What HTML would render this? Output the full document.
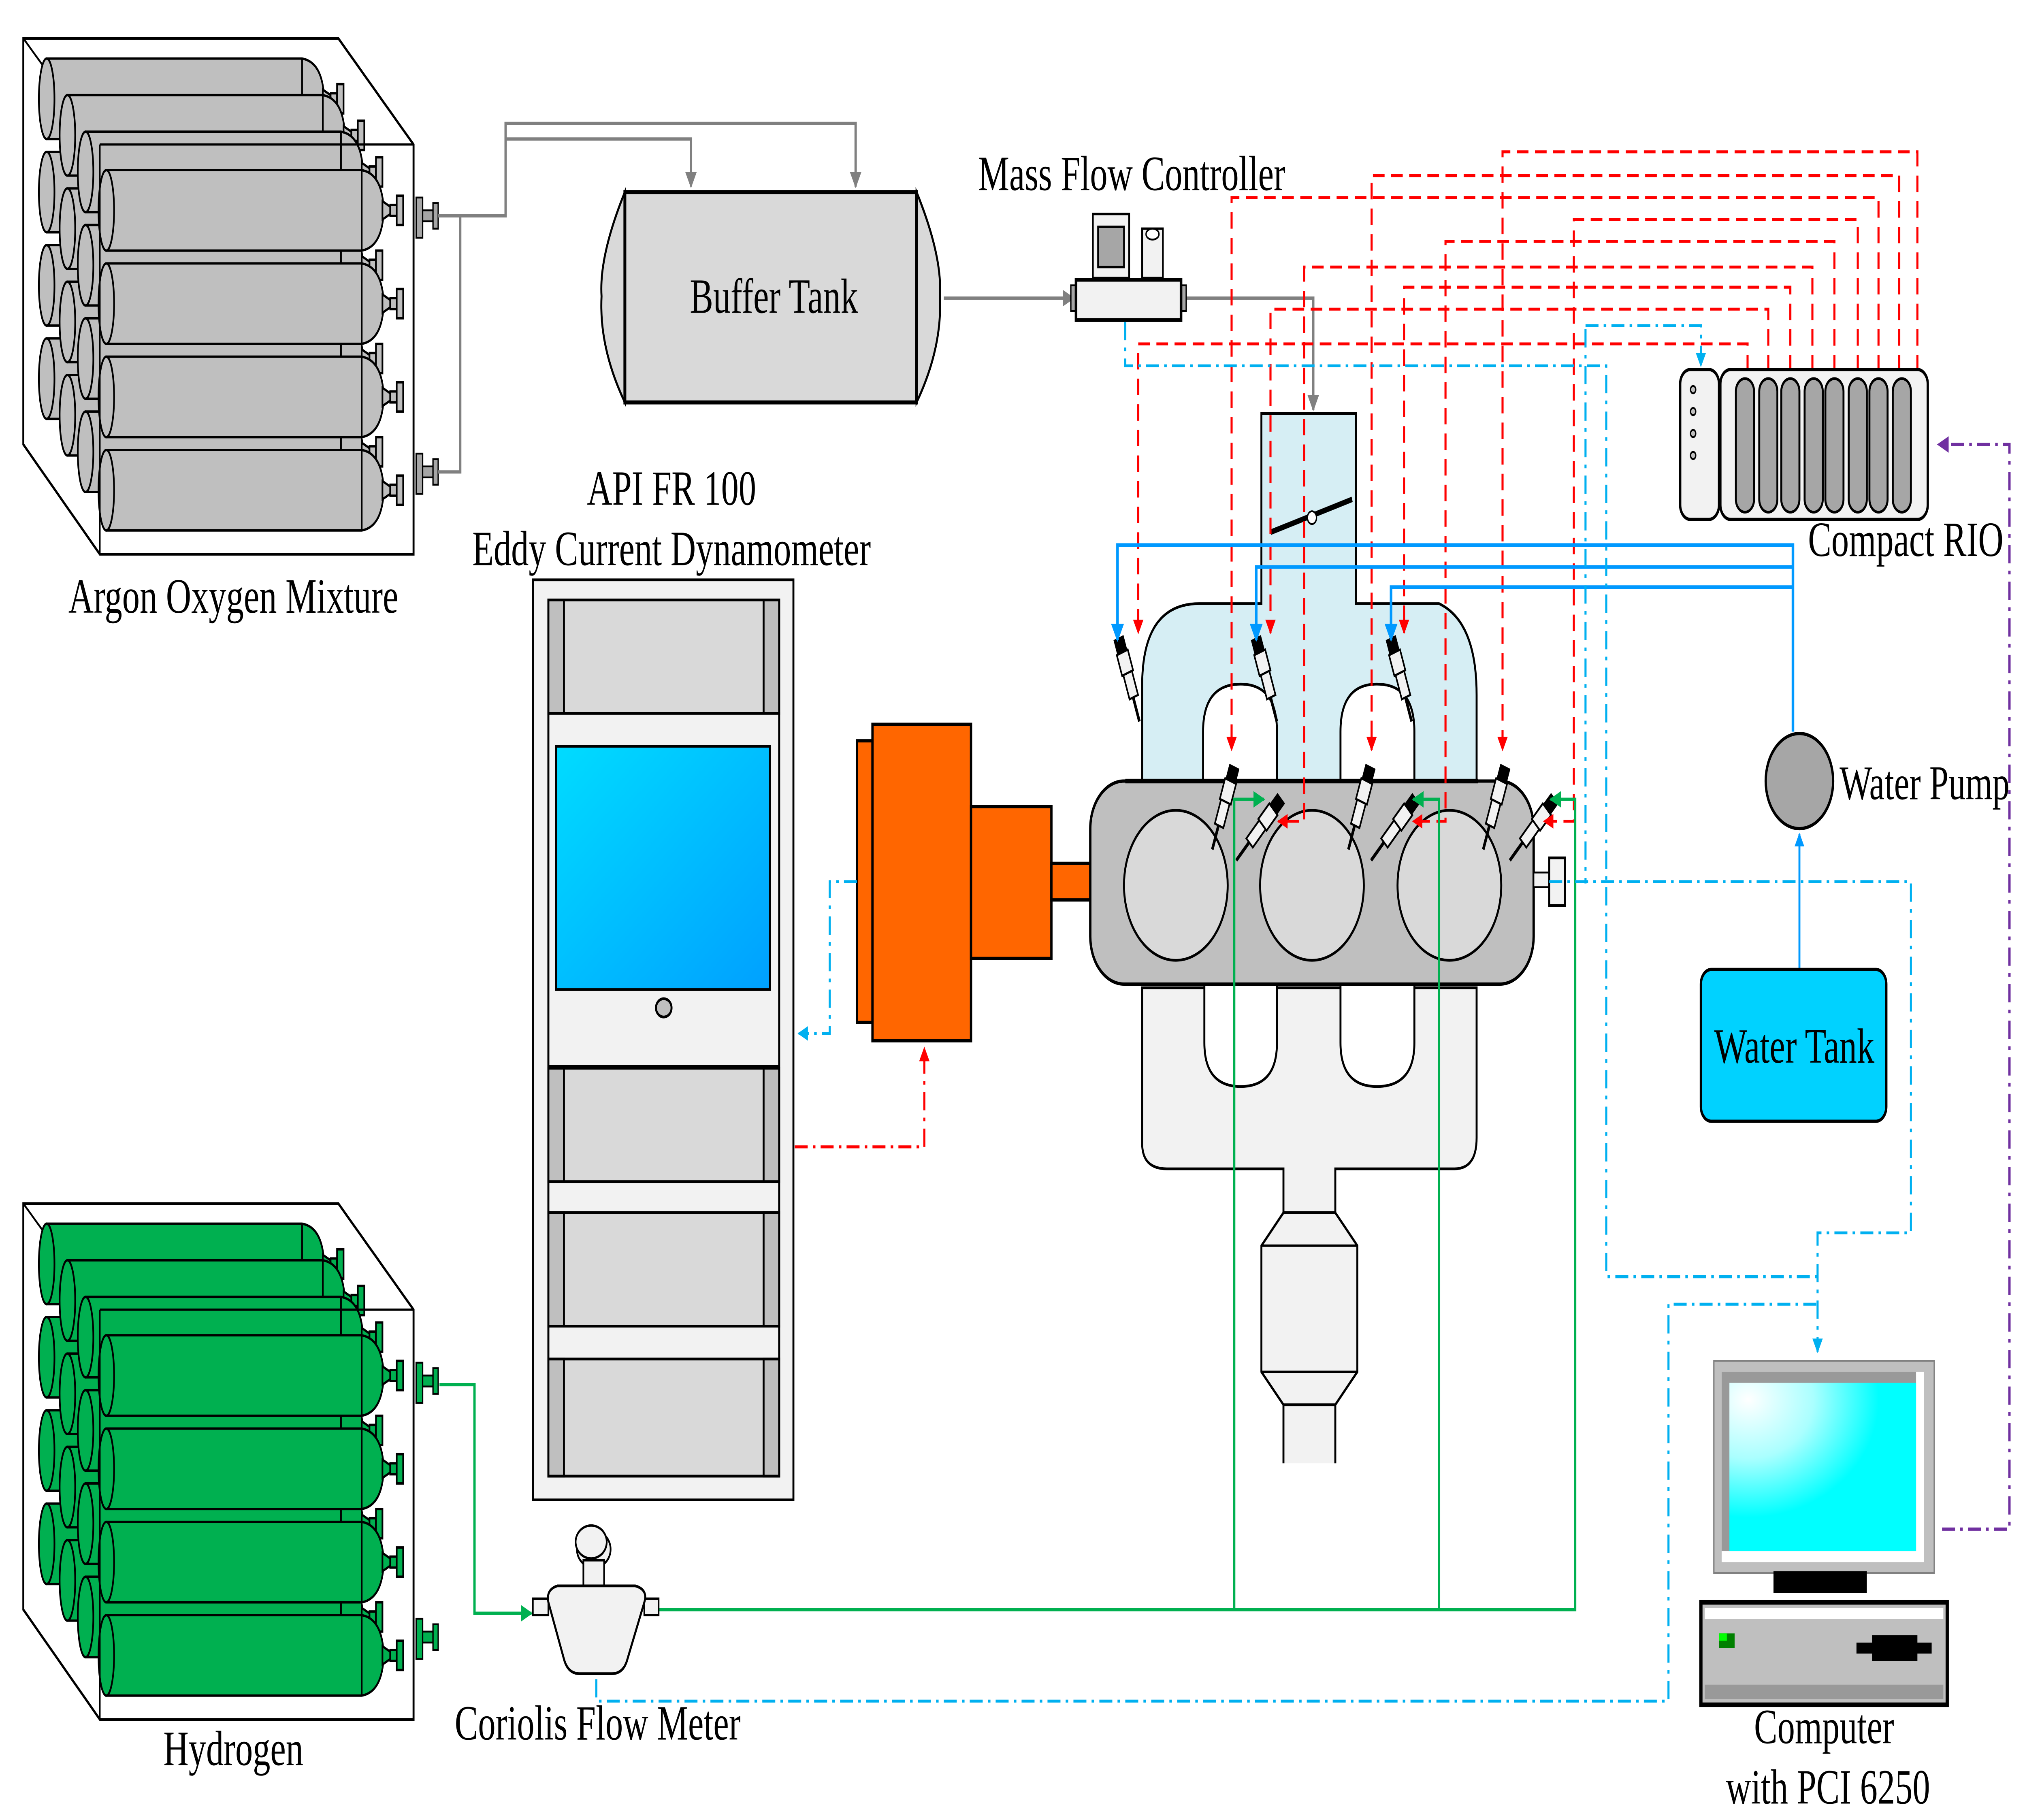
<!DOCTYPE html>
<html><head><meta charset="utf-8"><style>
html,body{margin:0;padding:0;background:#fff;width:100%;height:100%;overflow:hidden}
svg{display:block;width:100vw;height:100vh}
text{font-family:"Liberation Serif",serif;fill:#000}
</style></head><body>
<svg viewBox="0 0 1562 995" preserveAspectRatio="none" xmlns="http://www.w3.org/2000/svg">
<defs>
<linearGradient id="scr" x1="0" y1="0" x2="1" y2="1"><stop offset="0" stop-color="#00dcff"/><stop offset="1" stop-color="#00a0ff"/></linearGradient>
<radialGradient id="pc" cx="0.1" cy="0.1" r="0.7"><stop offset="0" stop-color="#fff"/><stop offset="0.5" stop-color="#aaffff"/><stop offset="1" stop-color="#00ffff"/></radialGradient>
<g id="cyl" stroke="#000" stroke-width="1.3">
<path d="M0,0 H197 Q213,2 214,22 Q213,42 197,44 H0 Z"/>
<line x1="197" y1="0" x2="197" y2="44"/>
<ellipse cx="0" cy="22" rx="6" ry="22"/>
<path d="M213,17 L219,20 L219,24 L213,27 Z"/>
<rect x="219" y="19" width="5" height="6"/>
<rect x="224" y="14" width="5" height="16"/>
</g>
<g id="inj" stroke="#000" stroke-width="1.2" fill="#f2f2f2">
<rect x="-3" y="-22" width="7" height="8" fill="#000"/>
<rect x="-4" y="-14" width="9" height="12"/>
<rect x="-3" y="-2" width="7" height="14"/>
<line x1="0" y1="12" x2="0" y2="26" stroke-width="2"/>
</g>
<marker id="aR" viewBox="0 0 10 10" refX="9" refY="5" markerWidth="5" markerHeight="5" orient="auto"><path d="M0,0 L10,5 L0,10 Z" fill="#ff0000"/></marker>
<marker id="aB" viewBox="0 0 10 10" refX="9" refY="5" markerWidth="5" markerHeight="5" orient="auto"><path d="M0,0 L10,5 L0,10 Z" fill="#0099ff"/></marker>
<marker id="aC" viewBox="0 0 10 10" refX="9" refY="5" markerWidth="5" markerHeight="5" orient="auto"><path d="M0,0 L10,5 L0,10 Z" fill="#00b0f0"/></marker>
<marker id="aG" viewBox="0 0 10 10" refX="9" refY="5" markerWidth="5" markerHeight="5" orient="auto"><path d="M0,0 L10,5 L0,10 Z" fill="#00b050"/></marker>
<marker id="aY" viewBox="0 0 10 10" refX="9" refY="5" markerWidth="5" markerHeight="5" orient="auto"><path d="M0,0 L10,5 L0,10 Z" fill="#808080"/></marker>
<marker id="aP" viewBox="0 0 10 10" refX="9" refY="5" markerWidth="5" markerHeight="5" orient="auto"><path d="M0,0 L10,5 L0,10 Z" fill="#7030a0"/></marker>
</defs>

<!-- ARGON BOX -->
<g>
<path d="M18,21 H261 L319,79 V303 H77 L18,243 Z" fill="#fff" stroke="#000" stroke-width="1.5"/>
<line x1="18" y1="21" x2="77" y2="79" stroke="#000" stroke-width="1.2"/>
<g fill="#bfbfbf">
<use href="#cyl" x="36" y="32"/><use href="#cyl" x="36" y="83"/><use href="#cyl" x="36" y="134"/><use href="#cyl" x="36" y="185"/>
<use href="#cyl" x="52" y="52"/><use href="#cyl" x="52" y="103"/><use href="#cyl" x="52" y="154"/><use href="#cyl" x="52" y="205"/>
<use href="#cyl" x="66" y="72"/><use href="#cyl" x="66" y="123"/><use href="#cyl" x="66" y="174"/><use href="#cyl" x="66" y="225"/>
<use href="#cyl" x="82" y="93"/><use href="#cyl" x="82" y="144"/><use href="#cyl" x="82" y="195"/><use href="#cyl" x="82" y="246"/>
</g>
<line x1="77" y1="79" x2="77" y2="303" stroke="#000" stroke-width="1.2"/>
<line x1="77" y1="79" x2="319" y2="79" stroke="#000" stroke-width="1.2"/>
<g fill="#a6a6a6" stroke="#000" stroke-width="1"><rect x="321" y="108" width="5" height="22"/><rect x="326" y="115" width="8" height="6"/><rect x="334" y="111" width="4" height="14"/>
<rect x="321" y="248" width="5" height="22"/><rect x="326" y="255" width="8" height="6"/><rect x="334" y="251" width="4" height="14"/></g>
</g>
<text x="180" y="335" font-size="27" text-anchor="middle">Argon Oxygen Mixture</text>

<!-- HYDROGEN BOX -->
<g transform="translate(0,637)">
<path d="M18,21 H261 L319,79 V303 H77 L18,243 Z" fill="#fff" stroke="#000" stroke-width="1.5"/>
<line x1="18" y1="21" x2="77" y2="79" stroke="#000" stroke-width="1.2"/>
<g fill="#00b050">
<use href="#cyl" x="36" y="32"/><use href="#cyl" x="36" y="83"/><use href="#cyl" x="36" y="134"/><use href="#cyl" x="36" y="185"/>
<use href="#cyl" x="52" y="52"/><use href="#cyl" x="52" y="103"/><use href="#cyl" x="52" y="154"/><use href="#cyl" x="52" y="205"/>
<use href="#cyl" x="66" y="72"/><use href="#cyl" x="66" y="123"/><use href="#cyl" x="66" y="174"/><use href="#cyl" x="66" y="225"/>
<use href="#cyl" x="82" y="93"/><use href="#cyl" x="82" y="144"/><use href="#cyl" x="82" y="195"/><use href="#cyl" x="82" y="246"/>
</g>
<line x1="77" y1="79" x2="77" y2="303" stroke="#000" stroke-width="1.2"/>
<line x1="77" y1="79" x2="319" y2="79" stroke="#000" stroke-width="1.2"/>
<g fill="#00b050" stroke="#000" stroke-width="1"><rect x="321" y="108" width="5" height="22"/><rect x="326" y="115" width="8" height="6"/><rect x="334" y="111" width="4" height="14"/>
<rect x="321" y="248" width="5" height="22"/><rect x="326" y="255" width="8" height="6"/><rect x="334" y="251" width="4" height="14"/></g>
</g>
<text x="180" y="965" font-size="27" text-anchor="middle">Hydrogen</text>

<!-- GRAY GAS LINES -->
<g fill="none" stroke="#808080" stroke-width="1.8">
<path d="M338,118 H355 V258 H338"/>
<path d="M355,118 H390 V67.5 H660 V102" marker-end="url(#aY)"/>
<path d="M390,80 V76 H533 V102" marker-end="url(#aY)"/>
<path d="M728,163 H828" marker-end="url(#aY)"/>
<path d="M911,163 H1013 V224" marker-end="url(#aY)"/>
</g>

<!-- BUFFER TANK -->
<path d="M482,105 Q462,140 464,162 Q462,190 482,220 Z" fill="#d9d9d9" stroke="#000" stroke-width="1.5"/>
<path d="M707,105 Q727,140 725,162 Q727,190 707,220 Z" fill="#d9d9d9" stroke="#000" stroke-width="1.5"/>
<rect x="482" y="105" width="225" height="115" fill="#d9d9d9" stroke="#000" stroke-width="2.2"/>
<text x="597" y="171" font-size="27" text-anchor="middle">Buffer Tank</text>

<!-- MFC -->
<text x="873" y="104" font-size="27" text-anchor="middle">Mass Flow Controller</text>
<rect x="843" y="117" width="28" height="35" fill="#f2f2f2" stroke="#000" stroke-width="1.3"/>
<rect x="847" y="124" width="20" height="22" fill="#a6a6a6" stroke="#000" stroke-width="1.3"/>
<rect x="881" y="125" width="16" height="27" fill="#f2f2f2" stroke="#000" stroke-width="1.3"/>
<ellipse cx="889" cy="128" rx="5" ry="3" fill="#fff" stroke="#000"/>
<rect x="826" y="156" width="5" height="14" fill="#a6a6a6" stroke="#000"/>
<rect x="910" y="156" width="5" height="14" fill="#a6a6a6" stroke="#000"/>
<rect x="830" y="153" width="81" height="22" fill="#f2f2f2" stroke="#000" stroke-width="2"/>

<!-- DYNAMOMETER CABINET -->
<text x="518" y="276" font-size="27" text-anchor="middle">API FR 100</text>
<text x="518" y="309" font-size="27" text-anchor="middle">Eddy Current Dynamometer</text>
<rect x="411" y="317" width="201" height="503" fill="#f2f2f2" stroke="#000" stroke-width="1.5"/>
<rect x="423" y="328" width="178" height="479" fill="#f2f2f2" stroke="#000" stroke-width="1.5"/>
<g stroke="#000" stroke-width="1.5">
<rect x="423" y="328" width="178" height="62" fill="#d9d9d9"/>
<rect x="423" y="328" width="12" height="62" fill="#bfbfbf"/><rect x="589" y="328" width="12" height="62" fill="#bfbfbf"/>
<rect x="423" y="390" width="178" height="193" fill="#f2f2f2"/>
<rect x="429" y="408" width="165" height="133" fill="url(#scr)"/>
<ellipse cx="512" cy="551" rx="6" ry="5" fill="#bfbfbf"/>
<rect x="423" y="584" width="178" height="62" fill="#d9d9d9"/>
<rect x="423" y="584" width="12" height="62" fill="#bfbfbf"/><rect x="589" y="584" width="12" height="62" fill="#bfbfbf"/>
<rect x="423" y="646" width="178" height="17" fill="#f2f2f2"/>
<rect x="423" y="663" width="178" height="62" fill="#d9d9d9"/>
<rect x="423" y="663" width="12" height="62" fill="#bfbfbf"/><rect x="589" y="663" width="12" height="62" fill="#bfbfbf"/>
<rect x="423" y="725" width="178" height="18" fill="#f2f2f2"/>
<rect x="423" y="743" width="178" height="64" fill="#d9d9d9"/>
<rect x="423" y="743" width="12" height="64" fill="#bfbfbf"/><rect x="589" y="743" width="12" height="64" fill="#bfbfbf"/>
</g>

<!-- ORANGE DYNO -->
<g fill="#ff6600" stroke="#000" stroke-width="1.8">
<rect x="661" y="405" width="12" height="154"/>
<rect x="673" y="396" width="76" height="173"/>
<rect x="749" y="441" width="62" height="83"/>
<rect x="811" y="472" width="32" height="20"/>
</g>

<!-- ENGINE -->
<path d="M881,540 V625 Q881,639 900,639 H990 V663 H1030 V639 H1122 Q1139,639 1139,622 V540 Z" fill="#f2f2f2" stroke="#000" stroke-width="1.5"/>
<path d="M929,538 V570 Q929,594 957,594 Q985,594 985,570 V538 Z" fill="#fff" stroke="#000" stroke-width="1.5"/>
<path d="M1034,538 V570 Q1034,594 1062,594 Q1091,594 1091,570 V538 Z" fill="#fff" stroke="#000" stroke-width="1.5"/>
<path d="M990,663 L973,681 V750 L990,768 H1030 L1047,750 V681 L1030,663 Z" fill="#f2f2f2" stroke="#000" stroke-width="1.5"/>
<line x1="973" y1="681" x2="1047" y2="681" stroke="#000" stroke-width="1.3"/>
<line x1="973" y1="750" x2="1047" y2="750" stroke="#000" stroke-width="1.3"/>
<rect x="990" y="768" width="40" height="32" fill="#f2f2f2"/>
<path d="M990,768 V800 M1030,768 V800 M990,768 H1030" stroke="#000" stroke-width="1.5" fill="none"/>

<!-- intake -->
<path d="M881,427 V375 Q881,330 925,330 H973 V226 H1046 V330 H1110 Q1139,340 1139,380 V427 Z" fill="#d6eef4" stroke="#000" stroke-width="1.5"/>
<path d="M928,427 V400 Q928,374 957,374 Q985,374 985,400 V427 Z" fill="#fff" stroke="#000" stroke-width="1.5"/>
<path d="M1034,427 V400 Q1034,374 1062,374 Q1091,374 1091,400 V427 Z" fill="#fff" stroke="#000" stroke-width="1.5"/>
<line x1="980" y1="291" x2="1043" y2="273" stroke="#000" stroke-width="3"/>
<circle cx="1012" cy="283" r="3.5" fill="#fff" stroke="#000"/>

<!-- block -->
<rect x="841" y="427" width="342" height="111" rx="26" fill="#bfbfbf" stroke="#000" stroke-width="1.8"/>
<line x1="868" y1="427" x2="1140" y2="427" stroke="#000" stroke-width="2.5"/>
<g fill="#d9d9d9" stroke="#000" stroke-width="1.5">
<ellipse cx="907" cy="484" rx="40" ry="41"/>
<ellipse cx="1012" cy="484" rx="40" ry="41"/>
<ellipse cx="1118" cy="484" rx="40" ry="41"/>
</g>
<rect x="1183" y="477" width="12" height="8" fill="#f2f2f2" stroke="#000"/>
<rect x="1195" y="469" width="12" height="26" fill="#f2f2f2" stroke="#000" stroke-width="1.5"/>

<!-- injectors -->
<use href="#inj" transform="translate(870,370) rotate(-20)"/>
<use href="#inj" transform="translate(976,370) rotate(-20)"/>
<use href="#inj" transform="translate(1080,370) rotate(-20)"/>
<use href="#inj" transform="translate(944,440) rotate(20)"/>
<use href="#inj" transform="translate(1049,440) rotate(20)"/>
<use href="#inj" transform="translate(1153,440) rotate(20)"/>
<use href="#inj" transform="translate(972,452) rotate(45)"/>
<use href="#inj" transform="translate(1076,452) rotate(45)"/>
<use href="#inj" transform="translate(1183,452) rotate(45)"/>

<!-- RED DASHED CONTROL LINES -->
<g fill="none" stroke="#ff0000" stroke-width="1.6" stroke-dasharray="9,5" marker-end="url(#aR)">
<path d="M1479,203 V83 H1159 V410"/>
<path d="M1465,203 V96 H1058 V410"/>
<path d="M1449,203 V108 H950 V410"/>
<path d="M1433,203 V120 H1214 V449 H1191"/>
<path d="M1415,203 V132 H1115 V449 H1090"/>
<path d="M1398,203 V146 H1006 V449 H986"/>
<path d="M1381,203 V157 H1083 V346"/>
<path d="M1364,203 V169 H980 V346"/>
<path d="M1348,203 V188 H878 V346"/>
</g>

<!-- BLUE WATER LINES -->
<g fill="none" stroke="#0099ff" stroke-width="2" marker-end="url(#aB)">
<path d="M1383,400 V298 H862 V350"/>
<path d="M1383,310 H969 V350"/>
<path d="M1383,321 H1073 V350"/>
</g>
<path d="M1388,530 V456" stroke="#0099ff" stroke-width="1.5" marker-end="url(#aB)"/>

<!-- GREEN H2 LINES -->
<g fill="none" stroke="#00b050" stroke-width="1.8">
<path d="M339,757 H366 V882 H410" marker-end="url(#aG)"/>
<path d="M507,880 H1215 V437 H1196" marker-end="url(#aG)"/>
<path d="M952,880 V437 H975" marker-end="url(#aG)"/>
<path d="M1110,880 V437 H1090" marker-end="url(#aG)"/>
</g>

<!-- BLUE DASH-DOT SIGNAL LINES -->
<g fill="none" stroke="#00b0f0" stroke-width="1.6" stroke-dasharray="10,4,2,4">
<path d="M868,176 V200 H1239 V698 H1402"/>
<path d="M1223,180 V483 M1223,178 H1312 V200" marker-end="url(#aC)"/>
<path d="M1195,482 H1474 V674 H1402 V739" marker-end="url(#aC)"/>
<path d="M460,918 V930 H1287 V713 H1402"/>
<path d="M661,482 H640 V565 H616" marker-end="url(#aC)"/>
</g>
<path d="M613,627 H713 V573" fill="none" stroke="#ff0000" stroke-width="1.6" stroke-dasharray="10,4,2,4" marker-end="url(#aR)"/>
<path d="M1498,836 H1550 V243 H1495" fill="none" stroke="#7030a0" stroke-width="1.8" stroke-dasharray="10,4,2,4" marker-end="url(#aP)"/>

<!-- COMPACT RIO -->
<rect x="1296" y="202" width="30" height="82" rx="8" fill="#f2f2f2" stroke="#000" stroke-width="1.8"/>
<g fill="#bfbfbf" stroke="#000"><circle cx="1306" cy="213" r="2"/><circle cx="1306" cy="225" r="2"/><circle cx="1306" cy="237" r="2"/><circle cx="1306" cy="249" r="2"/></g>
<rect x="1327" y="202" width="160" height="82" rx="8" fill="#f2f2f2" stroke="#000" stroke-width="1.8"/>
<g fill="#a6a6a6" stroke="#000" stroke-width="1.5">
<rect x="1339" y="207" width="14" height="73" rx="7"/><rect x="1357" y="207" width="14" height="73" rx="7"/>
<rect x="1374" y="207" width="14" height="73" rx="7"/><rect x="1392" y="207" width="14" height="73" rx="7"/>
<rect x="1408" y="207" width="14" height="73" rx="7"/><rect x="1426" y="207" width="14" height="73" rx="7"/>
<rect x="1442" y="207" width="14" height="73" rx="7"/><rect x="1460" y="207" width="14" height="73" rx="7"/>
</g>
<text x="1470" y="304" font-size="27" text-anchor="middle">Compact RIO</text>

<!-- WATER PUMP / TANK -->
<circle cx="1388" cy="427" r="26" fill="#a6a6a6" stroke="#000" stroke-width="1.8"/>
<text x="1419" y="437" font-size="26.5">Water Pump</text>
<rect x="1312" y="530" width="143" height="83" rx="8" fill="#00d2ff" stroke="#000" stroke-width="1.8"/>
<text x="1384" y="581" font-size="27" text-anchor="middle">Water Tank</text>

<!-- COMPUTER -->
<rect x="1322" y="744" width="170" height="116" fill="#bfbfbf" stroke="#808080" stroke-width="1"/>
<rect x="1328" y="750" width="156" height="104" fill="#fff"/>
<rect x="1328" y="750" width="150" height="98" fill="#999"/>
<rect x="1334" y="756" width="144" height="92" fill="url(#pc)"/>
<rect x="1368" y="859" width="72" height="12" fill="#000"/>
<rect x="1312" y="876" width="190" height="56" fill="#bfbfbf" stroke="#000" stroke-width="2.5"/>
<rect x="1315" y="879" width="184" height="6" fill="#fff"/>
<rect x="1315" y="921" width="184" height="8" fill="#999"/>
<rect x="1326" y="893" width="12" height="8" fill="#008000"/>
<rect x="1326" y="893" width="6" height="4" fill="#00ff00"/>
<rect x="1432" y="898" width="58" height="6" fill="#000"/>
<rect x="1444" y="894" width="35" height="14" fill="#000"/>
<text x="1407" y="953" font-size="27" text-anchor="middle">Computer</text>
<text x="1410" y="986" font-size="27" text-anchor="middle">with PCI 6250</text>

<!-- CORIOLIS -->
<ellipse cx="458" cy="847" rx="13" ry="10" fill="#f2f2f2" stroke="#000" stroke-width="1.3"/>
<ellipse cx="456" cy="843" rx="12" ry="9" fill="#f2f2f2" stroke="#000" stroke-width="1.3"/>
<rect x="450" y="853" width="16" height="14" fill="#f2f2f2" stroke="#000" stroke-width="1.3"/>
<rect x="411" y="874" width="12" height="9" fill="#f2f2f2" stroke="#000" stroke-width="1.3"/>
<rect x="497" y="874" width="11" height="9" fill="#f2f2f2" stroke="#000" stroke-width="1.3"/>
<path d="M430,867 H490 Q500,869 497,876 L484,907 Q481,915 472,915 H447 Q438,915 435,907 L423,876 Q421,869 430,867 Z" fill="#f2f2f2" stroke="#000" stroke-width="1.5"/>
<text x="461" y="951" font-size="27" text-anchor="middle">Coriolis Flow Meter</text>
</svg>
</body></html>
